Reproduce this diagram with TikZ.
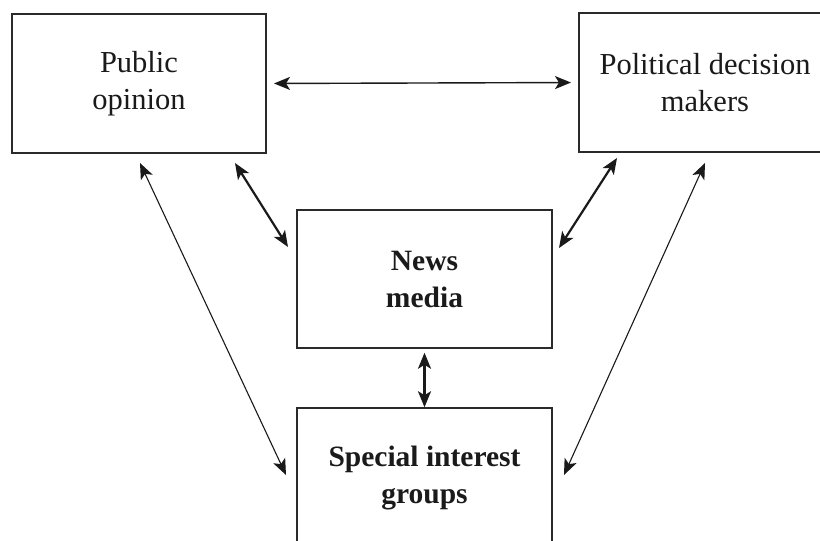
\documentclass[tikz,border=0pt]{standalone}
\usepackage{fontspec}
\setmainfont{Liberation Serif}
\usetikzlibrary{arrows.meta}
\definecolor{ink}{HTML}{1A1A1A}
\definecolor{boxline}{HTML}{2A2A2A}
\tikzset{
  topbox/.style={draw=boxline, line width=2pt, minimum width=254pt, minimum height=139pt,
    align=center, text=ink, font=\fontsize{30.5}{37}\selectfont, inner sep=0pt},
  midbox/.style={draw=boxline, line width=1.5pt, minimum width=255pt, minimum height=138pt,
    align=center, text=ink, font=\fontsize{29.5}{37}\selectfont\bfseries, inner sep=0pt},
  link/.style={{Stealth[length=16pt,width=13pt,inset=4pt]}-{Stealth[length=16pt,width=13pt,inset=4pt]}, draw=ink},
  thicklink/.style={link, line width=2.2pt},
  thinlink/.style={link, line width=1.1pt},
  midlink/.style={link, line width=1.4pt}
}
\begin{document}
\begin{tikzpicture}[x=1pt,y=-1pt]
\useasboundingbox (0,0) rectangle (820,541);
\fill[white] (0,0) rectangle (820,541);
\node[topbox] (pub) at (139,83.5) {Public\\opinion};
\node[topbox, minimum width=252pt] (pol) at (705,82.5) {Political decision\\makers};
\node[midbox] (news) at (424.5,279) {News\\media};
\node[midbox, minimum height=140pt] (sig) at (424.5,478) {Special interest\\groups};
% free ends of the diagonal connectors
\coordinate (pubA) at (140,163);
\coordinate (pubB) at (235,163);
\coordinate (polA) at (617,158);
\coordinate (polB) at (705,163);
\coordinate (newsL) at (288,247);
\coordinate (newsR) at (559,248);
\coordinate (sigL) at (286,475);
\coordinate (sigR) at (564,475);
\draw[midlink, shorten <=7pt, shorten >=7pt] (pub.east) -- (pol.west);
\draw[thicklink, shorten <=4pt, shorten >=0pt] (news.south) -- (sig.north);
\draw[thicklink] (pubB) -- (newsL);
\draw[thicklink] (polA) -- (newsR);
\draw[thinlink] (pubA) -- (sigL);
\draw[thinlink] (polB) -- (sigR);
\end{tikzpicture}
\end{document}
